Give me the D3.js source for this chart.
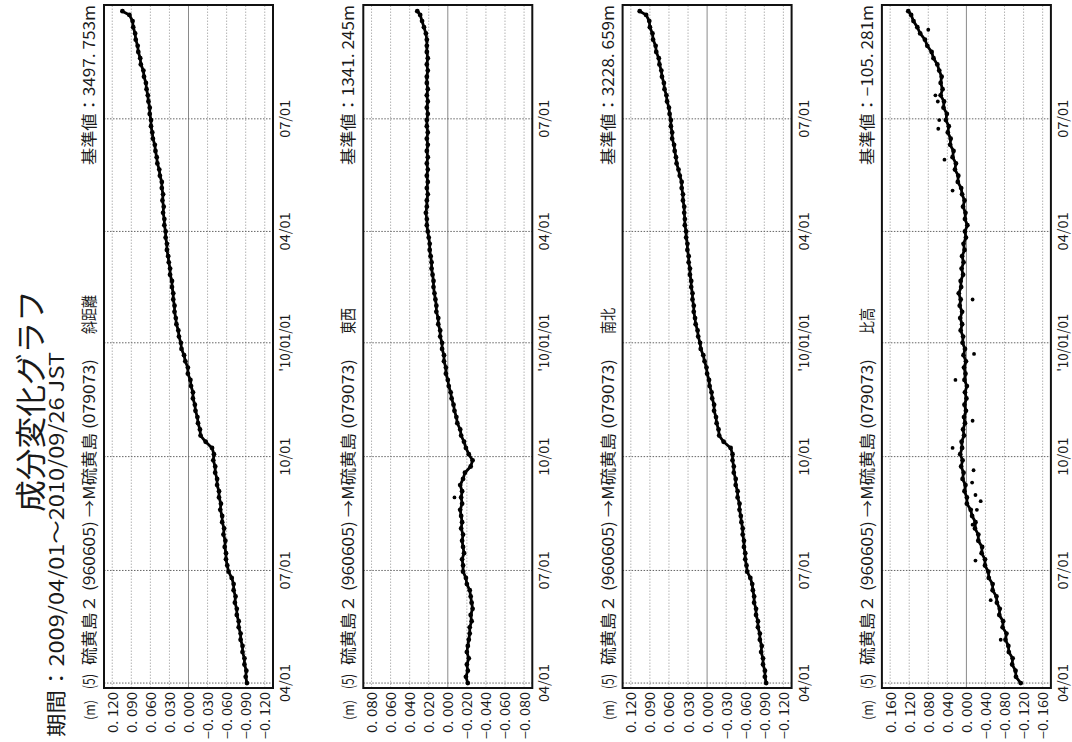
<!DOCTYPE html>
<html><head><meta charset="utf-8">
<script src="https://cdn.jsdelivr.net/npm/d3@7"></script>
<style>body{margin:0;background:#fff}svg{display:block}</style>
</head><body>
<svg id="chart" width="1072" height="742"></svg>
<script>
// ---------------- data ----------------
const dayOffsets = [0,5,10,15,20,25,30,35,40,45,50,55,60,65,70,75,80,85,90,95,100,105,110,115,120,125,130,135,140,145,150,155,160,165,170,175,180,185,190,195,200,205,210,215,220,225,230,235,240,245,250,255,260,265,270,275,280,285,290,295,300,305,310,315,320,325,330,335,340,345,350,355,360,365,370,375,380,385,390,395,400,405,410,415,420,425,430,435,440,445,450,455,460,465,470,475,480,485,490,495,500,505,510,515,520,525,530,535,540,543];

const slantDistance = [-0.092,-0.090,-0.091,-0.088,-0.088,-0.085,-0.085,-0.082,-0.082,-0.079,-0.079,-0.076,-0.076,-0.073,-0.074,-0.071,-0.071,-0.068,-0.063,-0.061,-0.059,-0.059,-0.057,-0.058,-0.055,-0.056,-0.053,-0.053,-0.050,-0.051,-0.048,-0.048,-0.045,-0.045,-0.042,-0.042,-0.039,-0.040,-0.037,-0.027,-0.019,-0.018,-0.015,-0.014,-0.011,-0.010,-0.007,-0.007,-0.004,-0.003,0.001,0.001,0.005,0.007,0.011,0.012,0.015,0.016,0.019,0.020,0.022,0.022,0.024,0.024,0.026,0.026,0.029,0.029,0.031,0.032,0.034,0.034,0.036,0.036,0.038,0.038,0.040,0.039,0.041,0.040,0.042,0.042,0.045,0.046,0.049,0.050,0.052,0.053,0.056,0.057,0.059,0.059,0.061,0.061,0.063,0.064,0.066,0.067,0.070,0.071,0.075,0.076,0.079,0.080,0.083,0.084,0.087,0.088,0.093,0.104];

const eastWest = [-0.021,-0.019,-0.021,-0.020,-0.022,-0.020,-0.021,-0.022,-0.023,-0.023,-0.025,-0.024,-0.026,-0.025,-0.024,-0.023,-0.020,-0.019,-0.016,-0.016,-0.015,-0.017,-0.016,-0.015,-0.016,-0.014,-0.015,-0.014,-0.013,-0.015,-0.014,-0.015,-0.013,-0.016,-0.018,-0.024,-0.026,-0.022,-0.019,-0.017,-0.014,-0.013,-0.010,-0.009,-0.007,-0.006,-0.004,-0.003,-0.001,0.000,0.002,0.002,0.004,0.004,0.006,0.006,0.008,0.008,0.010,0.010,0.012,0.012,0.013,0.014,0.015,0.015,0.016,0.017,0.017,0.018,0.019,0.019,0.020,0.021,0.022,0.022,0.023,0.022,0.022,0.021,0.022,0.021,0.022,0.021,0.022,0.021,0.022,0.021,0.022,0.021,0.022,0.022,0.021,0.022,0.021,0.022,0.021,0.022,0.022,0.021,0.022,0.021,0.022,0.022,0.022,0.023,0.025,0.027,0.029,0.032];

const northSouth = [-0.093,-0.091,-0.091,-0.088,-0.088,-0.085,-0.086,-0.083,-0.083,-0.080,-0.080,-0.077,-0.077,-0.074,-0.074,-0.072,-0.071,-0.068,-0.063,-0.062,-0.060,-0.060,-0.058,-0.058,-0.056,-0.056,-0.054,-0.053,-0.051,-0.051,-0.048,-0.048,-0.045,-0.045,-0.042,-0.042,-0.040,-0.040,-0.037,-0.026,-0.019,-0.018,-0.015,-0.014,-0.011,-0.011,-0.008,-0.007,-0.004,-0.003,0.000,0.001,0.004,0.006,0.010,0.011,0.014,0.015,0.018,0.019,0.021,0.021,0.023,0.023,0.025,0.025,0.027,0.027,0.029,0.029,0.031,0.031,0.033,0.033,0.035,0.035,0.036,0.036,0.038,0.038,0.040,0.040,0.043,0.045,0.048,0.049,0.051,0.052,0.055,0.055,0.057,0.057,0.059,0.060,0.063,0.064,0.067,0.068,0.071,0.072,0.075,0.076,0.080,0.081,0.085,0.086,0.090,0.091,0.096,0.106];

const relHeight = [-0.114,-0.104,-0.103,-0.096,-0.097,-0.089,-0.088,-0.082,-0.084,-0.076,-0.077,-0.069,-0.070,-0.064,-0.063,-0.055,-0.055,-0.047,-0.046,-0.039,-0.039,-0.032,-0.033,-0.025,-0.025,-0.018,-0.019,-0.012,-0.009,-0.001,-0.001,0.004,0.002,0.008,0.006,0.011,0.008,0.013,0.009,0.010,0.005,0.007,0.003,0.005,0.001,0.004,0.000,0.003,-0.001,0.004,0.002,0.005,0.001,0.006,0.003,0.008,0.007,0.012,0.009,0.013,0.009,0.014,0.012,0.016,0.011,0.012,0.007,0.010,0.006,0.009,0.004,0.006,0.001,0.003,-0.002,0.003,0.002,0.007,0.004,0.009,0.011,0.018,0.017,0.024,0.022,0.029,0.027,0.034,0.033,0.039,0.037,0.043,0.041,0.048,0.047,0.054,0.050,0.054,0.052,0.057,0.061,0.069,0.073,0.082,0.087,0.097,0.103,0.111,0.116,0.122];

// isolated points (day offset, value) that stand apart from the trace
const eastWestOutliers = [[150,-0.007]];
const relHeightOutliers = [[35,-0.072],[67,-0.051],[99,-0.019],[128,-0.013],[140,-0.022],[147,-0.030],[152,-0.019],[162,-0.012],[172,-0.015],[190,0.029],[212,-0.013],[245,0.023],[266,-0.016],[310,-0.013],[398,0.029],[423,0.046],[448,0.059],[455,0.057],[470,0.060],[475,0.065],[528,0.080]];

const componentNames = ["斜距離","東西","南北","比高"];
const baseValueLabels = ["基準値：3497. 753m","基準値：1341. 245m","基準値：3228. 659m","基準値：−105. 281m"];
const valueTicks = [
  [0.12,0.09,0.06,0.03,0,-0.03,-0.06,-0.09,-0.12],
  [0.08,0.06,0.04,0.02,0,-0.02,-0.04,-0.06,-0.08],
  [0.12,0.09,0.06,0.03,0,-0.03,-0.06,-0.09,-0.12],
  [0.16,0.12,0.08,0.04,0,-0.04,-0.08,-0.12,-0.16]
];
const valueTickLabels = [
  ["0. 120","0. 090","0. 060","0. 030","0. 000","−0. 030","−0. 060","−0. 090","−0. 120"],
  ["0. 080","0. 060","0. 040","0. 020","0. 000","−0. 020","−0. 040","−0. 060","−0. 080"],
  ["0. 120","0. 090","0. 060","0. 030","0. 000","−0. 030","−0. 060","−0. 090","−0. 120"],
  ["0. 160","0. 120","0. 080","0. 040","0. 000","−0. 040","−0. 080","−0. 120","−0. 160"]
];
const dateTicks = ["2009-04-01","2009-07-01","2009-10-01","2010-01-01","2010-04-01","2010-07-01"];
const dateTickLabels = ["04/01","07/01","10/01","'10/01/01","04/01","07/01"];
const titleText = "成分変化グラフ";
const periodText = "期間：2009/04/01～2010/09/26  JST";
const baselineText = "硫黄島２ (960605) →M硫黄島 (079073)";
const seriesList = [slantDistance, eastWest, northSouth, relHeight];
const outlierList = [[], eastWestOutliers, [], relHeightOutliers];

// ---------------- layout (unrotated frame: 742 wide x 1072 tall) ----------------
const FONT = "'Noto Sans CJK JP','Noto Sans',sans-serif";
const svg = d3.select("#chart");
const root = svg.append("g").attr("transform","translate(0,742) rotate(-90)");

const startDay = Date.UTC(2009,3,1);
const toDate = d => new Date(startDay + d*86400000);
const parseDay = s => new Date(s + "T00:00:00Z");
const x = d3.scaleUtc()
  .domain([new Date(Date.UTC(2009,2,28)), new Date(Date.UTC(2010,9,1))])
  .range([54, 737]);

const panelTops = [104, 363.3, 622.6, 881.9];
const panelH = 169;

function addText(g, str, px, py, size, len, anchor, extra) {
  const t = g.append("text")
    .attr("x", px).attr("y", py)
    .attr("font-family", FONT)
    .attr("font-size", size)
    .attr("fill", "#1a1a1a")
    .attr("text-anchor", anchor || "start")
    .text(str);
  if (len) t.attr("textLength", len).attr("lengthAdjust", "spacingAndGlyphs");
  if (extra) extra(t);
  return t;
}

// title
addText(root, titleText, 230, 42, 31, 222, "start");
addText(root, periodText, 5, 64, 20, 385, "start");

seriesList.forEach((series, i) => {
  const top = panelTops[i];
  const M = valueTicks[i][0] * 1.108;
  const y = d3.scaleLinear().domain([-M, M]).range([top + panelH, top]);
  const g = root.append("g");

  // value grid
  g.selectAll("line.vg").data(valueTicks[i]).join("line")
    .attr("x1", 54).attr("x2", 737)
    .attr("y1", d => y(d)).attr("y2", d => y(d))
    .attr("stroke", d => d === 0 ? "#8a8a8a" : "#b4b4b4")
    .attr("stroke-width", 1)
    .attr("stroke-dasharray", d => d === 0 ? null : "1.5,1.5");

  // date grid
  g.selectAll("line.dg").data(dateTicks).join("line")
    .attr("x1", d => x(parseDay(d))).attr("x2", d => x(parseDay(d)))
    .attr("y1", top).attr("y2", top + panelH)
    .attr("stroke", "#666").attr("stroke-width", 1)
    .attr("stroke-dasharray", "1.5,1.5");

  // series trace
  const pts = series.map((v, k) => [x(toDate(dayOffsets[k])), y(v)]);
  g.append("path")
    .attr("d", d3.line()(pts))
    .attr("fill", "none").attr("stroke", "#000").attr("stroke-width", 2.8)
    .attr("stroke-linejoin", "round");
  g.selectAll("circle.p").data(pts).join("circle")
    .attr("cx", d => d[0]).attr("cy", d => d[1]).attr("r", 2.4).attr("fill", "#000");
  g.selectAll("circle.o").data(outlierList[i]).join("circle")
    .attr("cx", d => x(toDate(d[0]))).attr("cy", d => y(d[1])).attr("r", 1.9).attr("fill", "#000");

  // frame
  g.append("rect").attr("x", 54).attr("y", top).attr("width", 683).attr("height", panelH)
    .attr("fill", "none").attr("stroke", "#111").attr("stroke-width", 2);

  // value tick labels
  valueTicks[i].forEach((v, k) => {
    const lab = valueTickLabels[i][k];
    addText(g, lab, 50, y(v), 13, lab.startsWith("−") ? 47 : 41, "end",
      t => t.attr("dominant-baseline", "central"));
  });

  // date tick labels
  dateTicks.forEach((d, k) => {
    const lab = dateTickLabels[k];
    addText(g, lab, x(parseDay(d)), top + panelH + 17, 14,
      lab.length > 5 ? 58 : 38, "middle");
  });

  // header
  const hy = top - 9;
  addText(g, "(m)", 22, hy, 14, 20, "start");
  addText(g, "(5)", 53, hy, 16, 15, "start");
  addText(g, baselineText, 77, hy, 16, 306, "start");
  addText(g, componentNames[i], 408, hy, 16, componentNames[i].length * 13, "start");
  addText(g, baseValueLabels[i], 737, hy, 16, 160, "end");
});
</script>
</body></html>
